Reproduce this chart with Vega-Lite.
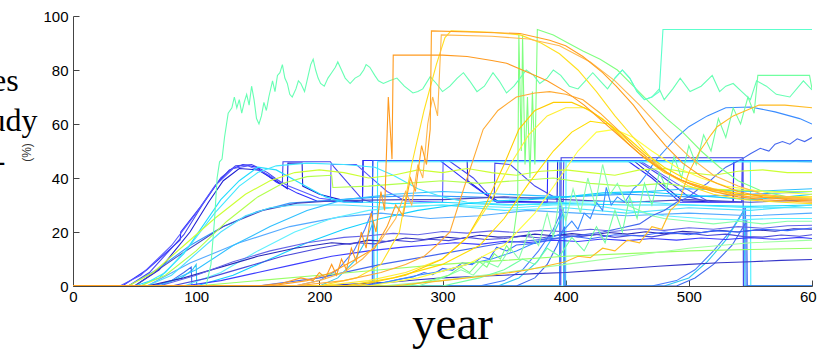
{
"$schema":"https://vega.github.io/schema/vega-lite/v6.json",
"width":739,"height":270,
"autosize":{"type":"none"},
"padding":{"left":73,"top":16,"right":5,"bottom":64},
"background":"white",
"config":{"view":{"stroke":null}},
"title":{"text":["Species","the study","areas -"],"orient":"top","anchor":"start","frame":"group","align":"left","baseline":"alphabetic","font":"Liberation Serif","fontSize":32,"fontWeight":"normal","lineHeight":40,"color":"#000","offset":0,"dx":-152,"dy":194},
"data":{"values":[
{"s":"s01","t":0,"v":0},{"s":"s01","t":50,"v":0},{"s":"s01","t":70,"v":6},{"s":"s01","t":95,"v":20},{"s":"s01","t":110,"v":31},{"s":"s01","t":122,"v":39},{"s":"s01","t":135,"v":43.5},{"s":"s01","t":150,"v":43},{"s":"s01","t":165,"v":39},{"s":"s01","t":174,"v":36},{"s":"s01","t":174.5,"v":45.5},{"s":"s01","t":186,"v":45.5},{"s":"s01","t":186.5,"v":37},{"s":"s01","t":200,"v":34},{"s":"s01","t":217,"v":32},{"s":"s01","t":235,"v":31},{"s":"s01","t":235.5,"v":46.5},{"s":"s01","t":320,"v":46.5},{"s":"s01","t":320.5,"v":39},{"s":"s01","t":335,"v":34},{"s":"s01","t":345,"v":31.5},{"s":"s01","t":393,"v":31},{"s":"s01","t":393.5,"v":46.5},{"s":"s01","t":455,"v":46.5},{"s":"s01","t":475,"v":39},{"s":"s01","t":495,"v":31.5},{"s":"s01","t":536,"v":31},{"s":"s01","t":536.5,"v":46.5},{"s":"s01","t":600,"v":46.5},
{"s":"s02","t":0,"v":0},{"s":"s02","t":40,"v":0},{"s":"s02","t":60,"v":6},{"s":"s02","t":87,"v":17},{"s":"s02","t":87.5,"v":20},{"s":"s02","t":103,"v":29},{"s":"s02","t":117,"v":38},{"s":"s02","t":127,"v":43},{"s":"s02","t":138,"v":45},{"s":"s02","t":149,"v":44},{"s":"s02","t":165,"v":38.5},{"s":"s02","t":182,"v":34.4},{"s":"s02","t":198,"v":31.5},{"s":"s02","t":235,"v":31},{"s":"s02","t":235.5,"v":46.5},{"s":"s02","t":298,"v":46.5},{"s":"s02","t":322,"v":38},{"s":"s02","t":344,"v":31},{"s":"s02","t":385,"v":31},{"s":"s02","t":385.5,"v":46.5},{"s":"s02","t":450,"v":46.5},{"s":"s02","t":470,"v":40},{"s":"s02","t":493,"v":31},{"s":"s02","t":536,"v":31},{"s":"s02","t":536.5,"v":46.5},{"s":"s02","t":600,"v":46.5},
{"s":"s03","t":0,"v":0},{"s":"s03","t":45,"v":0},{"s":"s03","t":62,"v":5},{"s":"s03","t":90,"v":19},{"s":"s03","t":105,"v":30},{"s":"s03","t":120,"v":40},{"s":"s03","t":132,"v":44.5},{"s":"s03","t":145,"v":45},{"s":"s03","t":158,"v":42},{"s":"s03","t":170,"v":38},{"s":"s03","t":170.5,"v":46},{"s":"s03","t":209,"v":46},{"s":"s03","t":212,"v":44},{"s":"s03","t":235,"v":32},{"s":"s03","t":243,"v":31},{"s":"s03","t":243.5,"v":46.5},{"s":"s03","t":305,"v":46.5},{"s":"s03","t":325,"v":40},{"s":"s03","t":342,"v":31.5},{"s":"s03","t":342.5,"v":45.5},{"s":"s03","t":355,"v":45},{"s":"s03","t":375,"v":37},{"s":"s03","t":398,"v":31},{"s":"s03","t":398.5,"v":46.5},{"s":"s03","t":458,"v":46.5},{"s":"s03","t":480,"v":40},{"s":"s03","t":500,"v":33},{"s":"s03","t":517,"v":31},{"s":"s03","t":543,"v":31},{"s":"s03","t":543.5,"v":46.5},{"s":"s03","t":600,"v":46},
{"s":"s04","t":0,"v":0},{"s":"s04","t":38,"v":0},{"s":"s04","t":55,"v":4},{"s":"s04","t":80,"v":15},{"s":"s04","t":100,"v":27},{"s":"s04","t":115,"v":37},{"s":"s04","t":130,"v":43.5},{"s":"s04","t":142,"v":44.5},{"s":"s04","t":155,"v":42},{"s":"s04","t":175,"v":37},{"s":"s04","t":200,"v":32.5},{"s":"s04","t":209,"v":32},{"s":"s04","t":209.5,"v":45},{"s":"s04","t":230,"v":45},{"s":"s04","t":240,"v":41},{"s":"s04","t":255,"v":35},{"s":"s04","t":270,"v":31.5},{"s":"s04","t":300,"v":31},{"s":"s04","t":300.5,"v":46.5},{"s":"s04","t":460,"v":46.5},{"s":"s04","t":490,"v":38},{"s":"s04","t":517,"v":31},{"s":"s04","t":543,"v":31},{"s":"s04","t":543.5,"v":46.5},{"s":"s04","t":600,"v":46.5},
{"s":"s05","t":0,"v":0},{"s":"s05","t":243,"v":0},{"s":"s05","t":243.3,"v":46.5},{"s":"s05","t":600,"v":46.5},
{"s":"s06","t":0,"v":0},{"s":"s06","t":395,"v":0},{"s":"s06","t":395.3,"v":46.5},{"s":"s06","t":600,"v":46.5},
{"s":"s07","t":0,"v":0},{"s":"s07","t":396,"v":0},{"s":"s07","t":396.3,"v":47.5},{"s":"s07","t":544,"v":47.5},{"s":"s07","t":544.3,"v":0},{"s":"s07","t":600,"v":0},
{"s":"s08","t":0,"v":0},{"s":"s08","t":247,"v":0},{"s":"s08","t":247.3,"v":46},{"s":"s08","t":600,"v":46},
{"s":"s09","t":0,"v":0},{"s":"s09","t":400,"v":0},{"s":"s09","t":400.3,"v":46},{"s":"s09","t":550,"v":46},{"s":"s09","t":550.3,"v":0},{"s":"s09","t":600,"v":0},
{"s":"s10","t":0,"v":0},{"s":"s10","t":180,"v":0},{"s":"s10","t":200,"v":2},{"s":"s10","t":215,"v":6},{"s":"s10","t":228,"v":13},{"s":"s10","t":237,"v":21},{"s":"s10","t":243,"v":28},{"s":"s10","t":243.5,"v":0},{"s":"s10","t":330,"v":0},{"s":"s10","t":350,"v":2},{"s":"s10","t":365,"v":6},{"s":"s10","t":378,"v":13},{"s":"s10","t":390,"v":21},{"s":"s10","t":398,"v":29},{"s":"s10","t":398.5,"v":0},{"s":"s10","t":470,"v":0},{"s":"s10","t":490,"v":2},{"s":"s10","t":505,"v":6},{"s":"s10","t":520,"v":13},{"s":"s10","t":535,"v":21},{"s":"s10","t":546,"v":29},{"s":"s10","t":546.5,"v":0},{"s":"s10","t":600,"v":0},
{"s":"s11","t":0,"v":0},{"s":"s11","t":60,"v":0},{"s":"s11","t":75,"v":1},{"s":"s11","t":88,"v":3},{"s":"s11","t":97,"v":6},{"s":"s11","t":100,"v":8},{"s":"s11","t":100.5,"v":0},{"s":"s11","t":200,"v":0},{"s":"s11","t":215,"v":3},{"s":"s11","t":228,"v":9},{"s":"s11","t":238,"v":17},{"s":"s11","t":244,"v":24},{"s":"s11","t":244.5,"v":0},{"s":"s11","t":345,"v":0},{"s":"s11","t":362,"v":3},{"s":"s11","t":377,"v":9},{"s":"s11","t":388,"v":17},{"s":"s11","t":398,"v":27},{"s":"s11","t":398.5,"v":0},{"s":"s11","t":480,"v":0},{"s":"s11","t":500,"v":3},{"s":"s11","t":515,"v":9},{"s":"s11","t":530,"v":17},{"s":"s11","t":545,"v":28},{"s":"s11","t":545.5,"v":0},{"s":"s11","t":600,"v":0},
{"s":"s12","t":0,"v":0},{"s":"s12","t":65,"v":0},{"s":"s12","t":80,"v":2},{"s":"s12","t":90,"v":5},{"s":"s12","t":96,"v":7},{"s":"s12","t":96.5,"v":0},{"s":"s12","t":360,"v":0},{"s":"s12","t":375,"v":3},{"s":"s12","t":385,"v":8},{"s":"s12","t":393,"v":15},{"s":"s12","t":399,"v":22},{"s":"s12","t":399.5,"v":0},{"s":"s12","t":490,"v":0},{"s":"s12","t":505,"v":3},{"s":"s12","t":520,"v":8},{"s":"s12","t":535,"v":15},{"s":"s12","t":547,"v":24},{"s":"s12","t":547.5,"v":0},{"s":"s12","t":600,"v":0},
{"s":"s13","t":0,"v":0},{"s":"s13","t":45,"v":0},{"s":"s13","t":68,"v":6},{"s":"s13","t":95,"v":15},{"s":"s13","t":122,"v":22},{"s":"s13","t":149,"v":27.5},{"s":"s13","t":176,"v":30.7},{"s":"s13","t":217,"v":32},{"s":"s13","t":250,"v":33},{"s":"s13","t":280,"v":33.5},{"s":"s13","t":320,"v":33},{"s":"s13","t":360,"v":32.5},{"s":"s13","t":400,"v":33},{"s":"s13","t":450,"v":34},{"s":"s13","t":500,"v":33},{"s":"s13","t":550,"v":34},{"s":"s13","t":600,"v":35},
{"s":"s14","t":0,"v":0},{"s":"s14","t":60,"v":0},{"s":"s14","t":95,"v":8.5},{"s":"s14","t":135,"v":16},{"s":"s14","t":176,"v":22},{"s":"s14","t":217,"v":25.6},{"s":"s14","t":250,"v":27},{"s":"s14","t":290,"v":25},{"s":"s14","t":330,"v":26},{"s":"s14","t":370,"v":28},{"s":"s14","t":410,"v":27},{"s":"s14","t":450,"v":26},{"s":"s14","t":500,"v":27},{"s":"s14","t":550,"v":26},{"s":"s14","t":600,"v":27},
{"s":"s15","t":0,"v":0},{"s":"s15","t":50,"v":0},{"s":"s15","t":84,"v":10.7},{"s":"s15","t":122,"v":22},{"s":"s15","t":154,"v":28},{"s":"s15","t":182,"v":30.7},{"s":"s15","t":210,"v":31.5},{"s":"s15","t":240,"v":31.8},{"s":"s15","t":270,"v":32},{"s":"s15","t":300,"v":32},{"s":"s15","t":350,"v":33},{"s":"s15","t":400,"v":32},{"s":"s15","t":450,"v":31},{"s":"s15","t":500,"v":32},{"s":"s15","t":550,"v":31},{"s":"s15","t":600,"v":32},
{"s":"s16","t":0,"v":0},{"s":"s16","t":50,"v":0},{"s":"s16","t":70,"v":3},{"s":"s16","t":90,"v":12},{"s":"s16","t":105,"v":22},{"s":"s16","t":120,"v":32},{"s":"s16","t":135,"v":39},{"s":"s16","t":150,"v":44},{"s":"s16","t":165,"v":43},{"s":"s16","t":185,"v":38},{"s":"s16","t":205,"v":33},{"s":"s16","t":220,"v":31},{"s":"s16","t":245,"v":31},{"s":"s16","t":260,"v":30.5},{"s":"s16","t":300,"v":31},{"s":"s16","t":350,"v":30},{"s":"s16","t":400,"v":30.5},{"s":"s16","t":450,"v":30},{"s":"s16","t":500,"v":30},{"s":"s16","t":550,"v":29.5},{"s":"s16","t":600,"v":30},
{"s":"s17","t":0,"v":0},{"s":"s17","t":60,"v":0},{"s":"s17","t":80,"v":4},{"s":"s17","t":100,"v":12},{"s":"s17","t":120,"v":20},{"s":"s17","t":140,"v":26},{"s":"s17","t":160,"v":29},{"s":"s17","t":180,"v":30},{"s":"s17","t":220,"v":30},{"s":"s17","t":260,"v":29},{"s":"s17","t":300,"v":30},{"s":"s17","t":350,"v":28},{"s":"s17","t":400,"v":29},{"s":"s17","t":450,"v":27},{"s":"s17","t":500,"v":29},{"s":"s17","t":550,"v":28},{"s":"s17","t":600,"v":30},
{"s":"s18","t":0,"v":0},{"s":"s18","t":70,"v":0},{"s":"s18","t":100,"v":6},{"s":"s18","t":130,"v":15},{"s":"s18","t":160,"v":22},{"s":"s18","t":190,"v":28},{"s":"s18","t":220,"v":32},{"s":"s18","t":260,"v":34},{"s":"s18","t":300,"v":35},{"s":"s18","t":350,"v":34},{"s":"s18","t":400,"v":33},{"s":"s18","t":450,"v":34.5},{"s":"s18","t":500,"v":36},{"s":"s18","t":550,"v":35},{"s":"s18","t":600,"v":36},
{"s":"s19","t":0,"v":0},{"s":"s19","t":90,"v":0},{"s":"s19","t":120,"v":5},{"s":"s19","t":150,"v":13},{"s":"s19","t":180,"v":20},{"s":"s19","t":210,"v":25},{"s":"s19","t":240,"v":28},{"s":"s19","t":270,"v":29.5},{"s":"s19","t":300,"v":30},{"s":"s19","t":330,"v":29.5},{"s":"s19","t":360,"v":29},{"s":"s19","t":390,"v":30},{"s":"s19","t":420,"v":30},{"s":"s19","t":450,"v":28},{"s":"s19","t":480,"v":26},{"s":"s19","t":510,"v":25},{"s":"s19","t":540,"v":24.5},{"s":"s19","t":570,"v":25},{"s":"s19","t":600,"v":25},
{"s":"s20","t":0,"v":0},{"s":"s20","t":100,"v":0},{"s":"s20","t":130,"v":4},{"s":"s20","t":160,"v":10},{"s":"s20","t":190,"v":16},{"s":"s20","t":220,"v":21},{"s":"s20","t":250,"v":25},{"s":"s20","t":280,"v":28},{"s":"s20","t":310,"v":30},{"s":"s20","t":340,"v":31.5},{"s":"s20","t":370,"v":32},{"s":"s20","t":400,"v":33},{"s":"s20","t":430,"v":34.5},{"s":"s20","t":460,"v":35},{"s":"s20","t":490,"v":34},{"s":"s20","t":520,"v":33},{"s":"s20","t":550,"v":32},{"s":"s20","t":580,"v":33},{"s":"s20","t":600,"v":34},
{"s":"s21","t":0,"v":0},{"s":"s21","t":55,"v":0},{"s":"s21","t":75,"v":5},{"s":"s21","t":95,"v":15},{"s":"s21","t":115,"v":27},{"s":"s21","t":135,"v":37},{"s":"s21","t":150,"v":42},{"s":"s21","t":165,"v":44.5},{"s":"s21","t":190,"v":45.5},{"s":"s21","t":220,"v":45},{"s":"s21","t":245,"v":44},{"s":"s21","t":260,"v":41},{"s":"s21","t":280,"v":36},{"s":"s21","t":300,"v":33},{"s":"s21","t":320,"v":31},{"s":"s21","t":360,"v":30},{"s":"s21","t":400,"v":31},{"s":"s21","t":450,"v":31.5},{"s":"s21","t":500,"v":30},{"s":"s21","t":550,"v":29},{"s":"s21","t":600,"v":29},
{"s":"s22","t":0,"v":0},{"s":"s22","t":60,"v":0},{"s":"s22","t":90,"v":3},{"s":"s22","t":120,"v":7},{"s":"s22","t":150,"v":11},{"s":"s22","t":180,"v":14},{"s":"s22","t":210,"v":16},{"s":"s22","t":225,"v":15.5},{"s":"s22","t":240,"v":17},{"s":"s22","t":255,"v":16.5},{"s":"s22","t":270,"v":17.8},{"s":"s22","t":285,"v":17.2},{"s":"s22","t":300,"v":18.2},{"s":"s22","t":315,"v":17.6},{"s":"s22","t":330,"v":18.8},{"s":"s22","t":345,"v":18.1},{"s":"s22","t":360,"v":18.3},{"s":"s22","t":375,"v":19.2},{"s":"s22","t":390,"v":18.6},{"s":"s22","t":405,"v":19.4},{"s":"s22","t":420,"v":18.7},{"s":"s22","t":435,"v":19.8},{"s":"s22","t":450,"v":19.2},{"s":"s22","t":465,"v":20.1},{"s":"s22","t":480,"v":19.3},{"s":"s22","t":495,"v":20.3},{"s":"s22","t":510,"v":19.8},{"s":"s22","t":525,"v":20.6},{"s":"s22","t":540,"v":20},{"s":"s22","t":555,"v":20.8},{"s":"s22","t":570,"v":20.3},{"s":"s22","t":585,"v":21.2},{"s":"s22","t":600,"v":21},
{"s":"s23","t":0,"v":0},{"s":"s23","t":80,"v":0},{"s":"s23","t":110,"v":3},{"s":"s23","t":140,"v":7},{"s":"s23","t":170,"v":11},{"s":"s23","t":200,"v":14},{"s":"s23","t":215,"v":15.2},{"s":"s23","t":230,"v":16},{"s":"s23","t":245,"v":15.6},{"s":"s23","t":260,"v":17},{"s":"s23","t":275,"v":16.4},{"s":"s23","t":290,"v":17.3},{"s":"s23","t":305,"v":16.8},{"s":"s23","t":320,"v":18},{"s":"s23","t":335,"v":17.2},{"s":"s23","t":350,"v":17.6},{"s":"s23","t":365,"v":18.4},{"s":"s23","t":380,"v":17.8},{"s":"s23","t":395,"v":18.9},{"s":"s23","t":410,"v":18.2},{"s":"s23","t":425,"v":19.1},{"s":"s23","t":440,"v":18},{"s":"s23","t":455,"v":18.8},{"s":"s23","t":470,"v":18.2},{"s":"s23","t":485,"v":19.4},{"s":"s23","t":500,"v":19.6},{"s":"s23","t":515,"v":18.7},{"s":"s23","t":530,"v":19.2},{"s":"s23","t":545,"v":18.3},{"s":"s23","t":560,"v":18.1},{"s":"s23","t":575,"v":18.9},{"s":"s23","t":590,"v":18.4},{"s":"s23","t":600,"v":19},
{"s":"s24","t":0,"v":0},{"s":"s24","t":70,"v":0},{"s":"s24","t":100,"v":4},{"s":"s24","t":130,"v":9},{"s":"s24","t":160,"v":13},{"s":"s24","t":190,"v":16},{"s":"s24","t":220,"v":18},{"s":"s24","t":240,"v":18.6},{"s":"s24","t":260,"v":19.5},{"s":"s24","t":280,"v":19},{"s":"s24","t":300,"v":20.2},{"s":"s24","t":320,"v":19.6},{"s":"s24","t":340,"v":20.4},{"s":"s24","t":360,"v":19.8},{"s":"s24","t":380,"v":20.6},{"s":"s24","t":400,"v":20.1},{"s":"s24","t":420,"v":21},{"s":"s24","t":440,"v":20.3},{"s":"s24","t":460,"v":21.2},{"s":"s24","t":480,"v":20.6},{"s":"s24","t":500,"v":21.6},{"s":"s24","t":520,"v":21},{"s":"s24","t":540,"v":22},{"s":"s24","t":560,"v":21.4},{"s":"s24","t":580,"v":22.3},{"s":"s24","t":600,"v":22.5},
{"s":"s25","t":0,"v":0},{"s":"s25","t":90,"v":0},{"s":"s25","t":120,"v":2},{"s":"s25","t":150,"v":5},{"s":"s25","t":180,"v":8},{"s":"s25","t":210,"v":11},{"s":"s25","t":240,"v":13},{"s":"s25","t":270,"v":14.5},{"s":"s25","t":290,"v":15.2},{"s":"s25","t":310,"v":16},{"s":"s25","t":330,"v":15.4},{"s":"s25","t":350,"v":16.6},{"s":"s25","t":370,"v":16.1},{"s":"s25","t":390,"v":17},{"s":"s25","t":410,"v":16.5},{"s":"s25","t":430,"v":17.4},{"s":"s25","t":450,"v":16.8},{"s":"s25","t":470,"v":17.6},{"s":"s25","t":490,"v":17},{"s":"s25","t":510,"v":17.8},{"s":"s25","t":530,"v":17.2},{"s":"s25","t":550,"v":17.9},{"s":"s25","t":570,"v":17.3},{"s":"s25","t":590,"v":18},{"s":"s25","t":600,"v":17.6},
{"s":"s26","t":0,"v":0},{"s":"s26","t":200,"v":0},{"s":"s26","t":230,"v":0.8},{"s":"s26","t":260,"v":1.5},{"s":"s26","t":280,"v":2.3},{"s":"s26","t":300,"v":3},{"s":"s26","t":325,"v":3.5},{"s":"s26","t":350,"v":4},{"s":"s26","t":375,"v":4.6},{"s":"s26","t":400,"v":5},{"s":"s26","t":425,"v":5.8},{"s":"s26","t":450,"v":6.5},{"s":"s26","t":475,"v":7.3},{"s":"s26","t":500,"v":8},{"s":"s26","t":525,"v":8.6},{"s":"s26","t":550,"v":9},{"s":"s26","t":575,"v":9.5},{"s":"s26","t":600,"v":9.8},
{"s":"s27","t":0,"v":0},{"s":"s27","t":230,"v":0},{"s":"s27","t":250,"v":1},{"s":"s27","t":265,"v":2.5},{"s":"s27","t":276,"v":3.3},{"s":"s27","t":285,"v":5},{"s":"s27","t":292,"v":4.2},{"s":"s27","t":300,"v":6.5},{"s":"s27","t":308,"v":5.8},{"s":"s27","t":316,"v":8.6},{"s":"s27","t":324,"v":7.9},{"s":"s27","t":332,"v":10.8},{"s":"s27","t":338,"v":10},{"s":"s27","t":344,"v":14.4},{"s":"s27","t":352,"v":13},{"s":"s27","t":360,"v":15.2},{"s":"s27","t":375,"v":15.8},{"s":"s27","t":390,"v":17.4},{"s":"s27","t":405,"v":18.5},{"s":"s27","t":420,"v":17.5},{"s":"s27","t":440,"v":19},{"s":"s27","t":460,"v":18.5},{"s":"s27","t":480,"v":20},{"s":"s27","t":500,"v":19},{"s":"s27","t":520,"v":20.5},{"s":"s27","t":540,"v":20},{"s":"s27","t":560,"v":21},{"s":"s27","t":580,"v":20.5},{"s":"s27","t":600,"v":21.5},
{"s":"s28","t":0,"v":0},{"s":"s28","t":240,"v":0},{"s":"s28","t":260,"v":2},{"s":"s28","t":280,"v":4},{"s":"s28","t":300,"v":5.5},{"s":"s28","t":320,"v":8},{"s":"s28","t":340,"v":10},{"s":"s28","t":360,"v":13},{"s":"s28","t":380,"v":17},{"s":"s28","t":395,"v":19},{"s":"s28","t":405,"v":24},{"s":"s28","t":410,"v":21},{"s":"s28","t":415,"v":27},{"s":"s28","t":420,"v":25},{"s":"s28","t":425,"v":31},{"s":"s28","t":430,"v":28},{"s":"s28","t":433,"v":36.5},{"s":"s28","t":437,"v":30},{"s":"s28","t":442,"v":33},{"s":"s28","t":448,"v":31},{"s":"s28","t":455,"v":36},{"s":"s28","t":460,"v":38},{"s":"s28","t":465,"v":41},{"s":"s28","t":468,"v":43},{"s":"s28","t":472,"v":46},{"s":"s28","t":480,"v":50},{"s":"s28","t":490,"v":55},{"s":"s28","t":500,"v":59},{"s":"s28","t":515,"v":63},{"s":"s28","t":530,"v":66},{"s":"s28","t":550,"v":66.3},{"s":"s28","t":570,"v":64.5},{"s":"s28","t":590,"v":62},{"s":"s28","t":600,"v":60},
{"s":"s29","t":0,"v":0},{"s":"s29","t":150,"v":0},{"s":"s29","t":200,"v":3},{"s":"s29","t":250,"v":8},{"s":"s29","t":300,"v":12},{"s":"s29","t":350,"v":16},{"s":"s29","t":400,"v":18},{"s":"s29","t":430,"v":20},{"s":"s29","t":445,"v":21.5},{"s":"s29","t":460,"v":23},{"s":"s29","t":470,"v":26},{"s":"s29","t":480,"v":28},{"s":"s29","t":490,"v":31},{"s":"s29","t":500,"v":33},{"s":"s29","t":508,"v":36},{"s":"s29","t":515,"v":38},{"s":"s29","t":522,"v":41},{"s":"s29","t":530,"v":44},{"s":"s29","t":543,"v":47},{"s":"s29","t":550,"v":49},{"s":"s29","t":558,"v":51},{"s":"s29","t":565,"v":50},{"s":"s29","t":570,"v":52.5},{"s":"s29","t":576,"v":53.5},{"s":"s29","t":582,"v":52.5},{"s":"s29","t":588,"v":54.5},{"s":"s29","t":594,"v":53.5},{"s":"s29","t":600,"v":55},
{"s":"s30","t":0,"v":0},{"s":"s30","t":45,"v":0},{"s":"s30","t":65,"v":5},{"s":"s30","t":90,"v":15},{"s":"s30","t":115,"v":25},{"s":"s30","t":140,"v":34},{"s":"s30","t":160,"v":39},{"s":"s30","t":180,"v":42},{"s":"s30","t":200,"v":43},{"s":"s30","t":220,"v":42},{"s":"s30","t":240,"v":40},{"s":"s30","t":260,"v":41},{"s":"s30","t":280,"v":43},{"s":"s30","t":300,"v":42},{"s":"s30","t":320,"v":43.5},{"s":"s30","t":340,"v":42},{"s":"s30","t":360,"v":41},{"s":"s30","t":380,"v":42.5},{"s":"s30","t":400,"v":43},{"s":"s30","t":420,"v":42},{"s":"s30","t":440,"v":41},{"s":"s30","t":460,"v":43},{"s":"s30","t":480,"v":43.5},{"s":"s30","t":500,"v":42},{"s":"s30","t":520,"v":41},{"s":"s30","t":540,"v":42.5},{"s":"s30","t":560,"v":43},{"s":"s30","t":580,"v":42},{"s":"s30","t":600,"v":42},
{"s":"s31","t":0,"v":0},{"s":"s31","t":55,"v":0},{"s":"s31","t":75,"v":4},{"s":"s31","t":100,"v":13},{"s":"s31","t":125,"v":24},{"s":"s31","t":150,"v":33},{"s":"s31","t":170,"v":38},{"s":"s31","t":190,"v":40.5},{"s":"s31","t":210,"v":41},{"s":"s31","t":211,"v":36.5},{"s":"s31","t":240,"v":37},{"s":"s31","t":270,"v":38},{"s":"s31","t":300,"v":39},{"s":"s31","t":330,"v":38},{"s":"s31","t":360,"v":39},{"s":"s31","t":390,"v":40},{"s":"s31","t":420,"v":38},{"s":"s31","t":450,"v":37},{"s":"s31","t":480,"v":38},{"s":"s31","t":510,"v":36},{"s":"s31","t":540,"v":35.5},{"s":"s31","t":570,"v":35},{"s":"s31","t":600,"v":35},
{"s":"s32","t":0,"v":0},{"s":"s32","t":100,"v":0},{"s":"s32","t":150,"v":2},{"s":"s32","t":200,"v":4},{"s":"s32","t":250,"v":6},{"s":"s32","t":300,"v":8},{"s":"s32","t":350,"v":9.5},{"s":"s32","t":400,"v":11},{"s":"s32","t":450,"v":12},{"s":"s32","t":500,"v":13},{"s":"s32","t":550,"v":13.5},{"s":"s32","t":600,"v":14},
{"s":"s33","t":0,"v":0},{"s":"s33","t":250,"v":0},{"s":"s33","t":300,"v":2},{"s":"s33","t":350,"v":5},{"s":"s33","t":400,"v":8},{"s":"s33","t":450,"v":11},{"s":"s33","t":500,"v":14},{"s":"s33","t":550,"v":16},{"s":"s33","t":600,"v":17},
{"s":"s34","t":0,"v":0},{"s":"s34","t":280,"v":0},{"s":"s34","t":300,"v":3},{"s":"s34","t":315,"v":6},{"s":"s34","t":325,"v":4},{"s":"s34","t":335,"v":9},{"s":"s34","t":345,"v":7},{"s":"s34","t":355,"v":14},{"s":"s34","t":362,"v":10},{"s":"s34","t":370,"v":20},{"s":"s34","t":378,"v":15},{"s":"s34","t":385,"v":27},{"s":"s34","t":390,"v":18},{"s":"s34","t":395,"v":33},{"s":"s34","t":400,"v":24},{"s":"s34","t":406,"v":36},{"s":"s34","t":412,"v":27},{"s":"s34","t":418,"v":40},{"s":"s34","t":424,"v":30},{"s":"s34","t":430,"v":45},{"s":"s34","t":436,"v":34},{"s":"s34","t":442,"v":38},{"s":"s34","t":450,"v":30},{"s":"s34","t":460,"v":28},{"s":"s34","t":470,"v":26},{"s":"s34","t":480,"v":25},{"s":"s34","t":500,"v":24},{"s":"s34","t":520,"v":23},{"s":"s34","t":540,"v":24},{"s":"s34","t":560,"v":23},{"s":"s34","t":580,"v":24},{"s":"s34","t":600,"v":24},
{"s":"s35","t":0,"v":0},{"s":"s35","t":300,"v":0},{"s":"s35","t":330,"v":3},{"s":"s35","t":350,"v":6},{"s":"s35","t":365,"v":10},{"s":"s35","t":375,"v":8},{"s":"s35","t":385,"v":14},{"s":"s35","t":395,"v":11},{"s":"s35","t":405,"v":18},{"s":"s35","t":415,"v":13},{"s":"s35","t":425,"v":22},{"s":"s35","t":432,"v":16},{"s":"s35","t":440,"v":28},{"s":"s35","t":446,"v":20},{"s":"s35","t":452,"v":33},{"s":"s35","t":458,"v":25},{"s":"s35","t":464,"v":38},{"s":"s35","t":470,"v":30},{"s":"s35","t":476,"v":42},{"s":"s35","t":482,"v":36},{"s":"s35","t":488,"v":48},{"s":"s35","t":494,"v":40},{"s":"s35","t":500,"v":52},{"s":"s35","t":506,"v":45},{"s":"s35","t":512,"v":56},{"s":"s35","t":518,"v":50},{"s":"s35","t":524,"v":62},{"s":"s35","t":530,"v":55},{"s":"s35","t":536,"v":66},{"s":"s35","t":542,"v":60},{"s":"s35","t":548,"v":70},{"s":"s35","t":553,"v":64},{"s":"s35","t":556,"v":78},{"s":"s35","t":598,"v":78},{"s":"s35","t":600,"v":73},
{"s":"s36","t":0,"v":0},{"s":"s36","t":270,"v":0},{"s":"s36","t":290,"v":2},{"s":"s36","t":305,"v":4},{"s":"s36","t":315,"v":7},{"s":"s36","t":322,"v":5},{"s":"s36","t":330,"v":9},{"s":"s36","t":336,"v":7},{"s":"s36","t":342,"v":12},{"s":"s36","t":347,"v":10},{"s":"s36","t":352,"v":15},{"s":"s36","t":355,"v":13},{"s":"s36","t":358,"v":20},{"s":"s36","t":361,"v":30},{"s":"s36","t":362,"v":93},{"s":"s36","t":364,"v":50},{"s":"s36","t":365,"v":93},{"s":"s36","t":367,"v":45},{"s":"s36","t":369,"v":70},{"s":"s36","t":371,"v":40},{"s":"s36","t":373,"v":72},{"s":"s36","t":375,"v":45},{"s":"s36","t":377,"v":95},{"s":"s36","t":390,"v":93},{"s":"s36","t":400,"v":90.5},{"s":"s36","t":414,"v":87},{"s":"s36","t":428,"v":84},{"s":"s36","t":442,"v":80},{"s":"s36","t":455,"v":74},{"s":"s36","t":468,"v":68},{"s":"s36","t":482,"v":62},{"s":"s36","t":495,"v":57},{"s":"s36","t":510,"v":50},{"s":"s36","t":525,"v":44},{"s":"s36","t":540,"v":39},{"s":"s36","t":560,"v":35},{"s":"s36","t":580,"v":33},{"s":"s36","t":600,"v":32},
{"s":"s37","t":0,"v":0},{"s":"s37","t":108,"v":0},{"s":"s37","t":112,"v":8},{"s":"s37","t":115,"v":25},{"s":"s37","t":117,"v":40},{"s":"s37","t":119,"v":46},{"s":"s37","t":121,"v":47},{"s":"s37","t":123,"v":55},{"s":"s37","t":126,"v":64},{"s":"s37","t":129,"v":66},{"s":"s37","t":131,"v":70},{"s":"s37","t":133,"v":66},{"s":"s37","t":135,"v":69},{"s":"s37","t":137,"v":64},{"s":"s37","t":139,"v":68},{"s":"s37","t":141,"v":71},{"s":"s37","t":143,"v":67},{"s":"s37","t":145,"v":74},{"s":"s37","t":147,"v":69},{"s":"s37","t":149,"v":62},{"s":"s37","t":151,"v":60},{"s":"s37","t":153,"v":63},{"s":"s37","t":155,"v":68},{"s":"s37","t":157,"v":65},{"s":"s37","t":159,"v":70},{"s":"s37","t":162,"v":76},{"s":"s37","t":164,"v":72},{"s":"s37","t":166,"v":78},{"s":"s37","t":168,"v":79},{"s":"s37","t":170,"v":82},{"s":"s37","t":172,"v":77},{"s":"s37","t":174,"v":75},{"s":"s37","t":176,"v":71},{"s":"s37","t":178,"v":70},{"s":"s37","t":181,"v":73},{"s":"s37","t":183,"v":76},{"s":"s37","t":185,"v":75},{"s":"s37","t":188,"v":72},{"s":"s37","t":191,"v":78},{"s":"s37","t":193,"v":82},{"s":"s37","t":195,"v":84},{"s":"s37","t":197,"v":80},{"s":"s37","t":199,"v":77},{"s":"s37","t":201,"v":75},{"s":"s37","t":204,"v":74},{"s":"s37","t":207,"v":77},{"s":"s37","t":210,"v":79},{"s":"s37","t":213,"v":81},{"s":"s37","t":215,"v":83},{"s":"s37","t":218,"v":80},{"s":"s37","t":221,"v":77},{"s":"s37","t":225,"v":75},{"s":"s37","t":229,"v":77},{"s":"s37","t":233,"v":78},{"s":"s37","t":236,"v":80},{"s":"s37","t":238,"v":82},{"s":"s37","t":241,"v":81},{"s":"s37","t":245,"v":78},{"s":"s37","t":248,"v":76},{"s":"s37","t":252,"v":75},{"s":"s37","t":257,"v":76},{"s":"s37","t":263,"v":77},{"s":"s37","t":269,"v":74},{"s":"s37","t":276,"v":71.5},{"s":"s37","t":280,"v":72},{"s":"s37","t":284,"v":73},{"s":"s37","t":290,"v":77.5},{"s":"s37","t":295,"v":75},{"s":"s37","t":300,"v":72},{"s":"s37","t":306,"v":74},{"s":"s37","t":312,"v":77},{"s":"s37","t":317,"v":79},{"s":"s37","t":322,"v":76},{"s":"s37","t":328,"v":72},{"s":"s37","t":334,"v":74},{"s":"s37","t":341,"v":79},{"s":"s37","t":346,"v":76},{"s":"s37","t":352,"v":71.5},{"s":"s37","t":358,"v":74},{"s":"s37","t":363,"v":77},{"s":"s37","t":368,"v":80},{"s":"s37","t":374,"v":78},{"s":"s37","t":379,"v":75},{"s":"s37","t":385,"v":77},{"s":"s37","t":390,"v":80},{"s":"s37","t":396,"v":78},{"s":"s37","t":403,"v":74},{"s":"s37","t":410,"v":73},{"s":"s37","t":416,"v":76},{"s":"s37","t":422,"v":79},{"s":"s37","t":428,"v":76},{"s":"s37","t":434,"v":73},{"s":"s37","t":440,"v":77},{"s":"s37","t":446,"v":80},{"s":"s37","t":452,"v":77},{"s":"s37","t":458,"v":72},{"s":"s37","t":464,"v":69},{"s":"s37","t":470,"v":70},{"s":"s37","t":476,"v":73},{"s":"s37","t":480,"v":69},{"s":"s37","t":487,"v":73},{"s":"s37","t":493,"v":77},{"s":"s37","t":501,"v":72},{"s":"s37","t":510,"v":74},{"s":"s37","t":519,"v":78},{"s":"s37","t":525,"v":72},{"s":"s37","t":530,"v":74},{"s":"s37","t":536,"v":75},{"s":"s37","t":543,"v":72},{"s":"s37","t":550,"v":69},{"s":"s37","t":555,"v":76},{"s":"s37","t":563,"v":74},{"s":"s37","t":571,"v":71},{"s":"s37","t":582,"v":70},{"s":"s37","t":593,"v":76},{"s":"s37","t":600,"v":72.6},
{"s":"s38","t":440,"v":77},{"s":"s38","t":446,"v":80},{"s":"s38","t":452,"v":77},{"s":"s38","t":458,"v":72},{"s":"s38","t":464,"v":69},{"s":"s38","t":470,"v":70},{"s":"s38","t":476,"v":72},{"s":"s38","t":479,"v":95},{"s":"s38","t":600,"v":95},
{"s":"s39","t":0,"v":0},{"s":"s39","t":240,"v":0},{"s":"s39","t":280,"v":3},{"s":"s39","t":320,"v":8},{"s":"s39","t":350,"v":15},{"s":"s39","t":375,"v":27},{"s":"s39","t":395,"v":40},{"s":"s39","t":410,"v":50},{"s":"s39","t":425,"v":57},{"s":"s39","t":440,"v":58},{"s":"s39","t":455,"v":55},{"s":"s39","t":470,"v":50},{"s":"s39","t":490,"v":44},{"s":"s39","t":510,"v":40},{"s":"s39","t":530,"v":37},{"s":"s39","t":560,"v":35},{"s":"s39","t":600,"v":34},
{"s":"s40","t":0,"v":0},{"s":"s40","t":200,"v":0},{"s":"s40","t":240,"v":2},{"s":"s40","t":270,"v":5},{"s":"s40","t":300,"v":10},{"s":"s40","t":320,"v":18},{"s":"s40","t":340,"v":32},{"s":"s40","t":355,"v":45},{"s":"s40","t":370,"v":56},{"s":"s40","t":385,"v":63},{"s":"s40","t":400,"v":66},{"s":"s40","t":415,"v":66},{"s":"s40","t":430,"v":62},{"s":"s40","t":445,"v":56},{"s":"s40","t":460,"v":50},{"s":"s40","t":475,"v":44},{"s":"s40","t":490,"v":40},{"s":"s40","t":505,"v":37},{"s":"s40","t":520,"v":35},{"s":"s40","t":540,"v":33.5},{"s":"s40","t":570,"v":32.5},{"s":"s40","t":600,"v":32},
{"s":"s41","t":0,"v":0},{"s":"s41","t":220,"v":0},{"s":"s41","t":260,"v":3},{"s":"s41","t":300,"v":8},{"s":"s41","t":330,"v":15},{"s":"s41","t":350,"v":25},{"s":"s41","t":370,"v":38},{"s":"s41","t":390,"v":50},{"s":"s41","t":405,"v":57},{"s":"s41","t":420,"v":61},{"s":"s41","t":435,"v":60},{"s":"s41","t":450,"v":55},{"s":"s41","t":465,"v":49},{"s":"s41","t":480,"v":44},{"s":"s41","t":500,"v":39},{"s":"s41","t":520,"v":36},{"s":"s41","t":545,"v":34},{"s":"s41","t":575,"v":33},{"s":"s41","t":600,"v":33},
{"s":"s42","t":0,"v":0},{"s":"s42","t":230,"v":0},{"s":"s42","t":270,"v":4},{"s":"s42","t":300,"v":10},{"s":"s42","t":320,"v":18},{"s":"s42","t":335,"v":30},{"s":"s42","t":350,"v":45},{"s":"s42","t":362,"v":58},{"s":"s42","t":375,"v":65},{"s":"s42","t":390,"v":68},{"s":"s42","t":405,"v":68},{"s":"s42","t":420,"v":65},{"s":"s42","t":435,"v":60},{"s":"s42","t":450,"v":53},{"s":"s42","t":465,"v":47},{"s":"s42","t":480,"v":42},{"s":"s42","t":500,"v":38},{"s":"s42","t":520,"v":35.5},{"s":"s42","t":545,"v":34},{"s":"s42","t":575,"v":33},{"s":"s42","t":600,"v":32.5},
{"s":"s43","t":0,"v":0},{"s":"s43","t":200,"v":0},{"s":"s43","t":230,"v":3},{"s":"s43","t":250,"v":8},{"s":"s43","t":265,"v":20},{"s":"s43","t":275,"v":45},{"s":"s43","t":285,"v":65},{"s":"s43","t":295,"v":82},{"s":"s43","t":302,"v":92},{"s":"s43","t":307,"v":94.5},{"s":"s43","t":340,"v":94},{"s":"s43","t":363,"v":93},{"s":"s43","t":380,"v":90},{"s":"s43","t":395,"v":86},{"s":"s43","t":410,"v":80},{"s":"s43","t":425,"v":72},{"s":"s43","t":440,"v":63},{"s":"s43","t":455,"v":55},{"s":"s43","t":470,"v":47},{"s":"s43","t":485,"v":41},{"s":"s43","t":500,"v":37},{"s":"s43","t":520,"v":34},{"s":"s43","t":545,"v":32},{"s":"s43","t":575,"v":31},{"s":"s43","t":600,"v":30.5},
{"s":"s44","t":0,"v":0},{"s":"s44","t":260,"v":0},{"s":"s44","t":300,"v":2},{"s":"s44","t":340,"v":4},{"s":"s44","t":370,"v":6},{"s":"s44","t":400,"v":9},{"s":"s44","t":410,"v":11},{"s":"s44","t":420,"v":10.5},{"s":"s44","t":430,"v":14},{"s":"s44","t":440,"v":13},{"s":"s44","t":450,"v":17},{"s":"s44","t":460,"v":16},{"s":"s44","t":470,"v":22},{"s":"s44","t":478,"v":21},{"s":"s44","t":485,"v":28},{"s":"s44","t":492,"v":31},{"s":"s44","t":500,"v":42},{"s":"s44","t":509,"v":50},{"s":"s44","t":518,"v":56},{"s":"s44","t":523,"v":59},{"s":"s44","t":536,"v":63},{"s":"s44","t":557,"v":67},{"s":"s44","t":578,"v":67},{"s":"s44","t":600,"v":66},
{"s":"s45","t":0,"v":0},{"s":"s45","t":180,"v":0},{"s":"s45","t":220,"v":2},{"s":"s45","t":250,"v":5},{"s":"s45","t":270,"v":8},{"s":"s45","t":285,"v":11},{"s":"s45","t":295,"v":15},{"s":"s45","t":306,"v":20},{"s":"s45","t":320,"v":40},{"s":"s45","t":333,"v":58},{"s":"s45","t":345,"v":65},{"s":"s45","t":360,"v":70},{"s":"s45","t":375,"v":71.5},{"s":"s45","t":387,"v":72},{"s":"s45","t":400,"v":71},{"s":"s45","t":414,"v":69},{"s":"s45","t":428,"v":64},{"s":"s45","t":442,"v":58},{"s":"s45","t":455,"v":52},{"s":"s45","t":468,"v":47},{"s":"s45","t":482,"v":42},{"s":"s45","t":495,"v":39},{"s":"s45","t":509,"v":37},{"s":"s45","t":523,"v":35.5},{"s":"s45","t":536,"v":34},{"s":"s45","t":549,"v":33},{"s":"s45","t":575,"v":32.5},{"s":"s45","t":600,"v":32},
{"s":"s46","t":0,"v":0},{"s":"s46","t":180,"v":0},{"s":"s46","t":200,"v":2},{"s":"s46","t":220,"v":5},{"s":"s46","t":235,"v":10},{"s":"s46","t":250,"v":17},{"s":"s46","t":262,"v":25},{"s":"s46","t":270,"v":35},{"s":"s46","t":275,"v":30},{"s":"s46","t":280,"v":45},{"s":"s46","t":284,"v":40},{"s":"s46","t":288,"v":60},{"s":"s46","t":292,"v":70},{"s":"s46","t":296,"v":63},{"s":"s46","t":299,"v":93},{"s":"s46","t":340,"v":92.5},{"s":"s46","t":370,"v":91.5},{"s":"s46","t":395,"v":89},{"s":"s46","t":420,"v":83},{"s":"s46","t":440,"v":76},{"s":"s46","t":460,"v":67},{"s":"s46","t":480,"v":57},{"s":"s46","t":500,"v":48},{"s":"s46","t":520,"v":41},{"s":"s46","t":540,"v":37},{"s":"s46","t":560,"v":34},{"s":"s46","t":580,"v":33},{"s":"s46","t":600,"v":32},
{"s":"s47","t":0,"v":0},{"s":"s47","t":160,"v":0},{"s":"s47","t":190,"v":2},{"s":"s47","t":210,"v":5},{"s":"s47","t":230,"v":10},{"s":"s47","t":245,"v":14},{"s":"s47","t":255,"v":22},{"s":"s47","t":262,"v":30},{"s":"s47","t":268,"v":26},{"s":"s47","t":274,"v":40},{"s":"s47","t":278,"v":35},{"s":"s47","t":283,"v":52},{"s":"s47","t":287,"v":45},{"s":"s47","t":290,"v":58},{"s":"s47","t":291,"v":94.5},{"s":"s47","t":330,"v":94},{"s":"s47","t":363,"v":93.5},{"s":"s47","t":387,"v":91},{"s":"s47","t":400,"v":89},{"s":"s47","t":414,"v":85},{"s":"s47","t":430,"v":79},{"s":"s47","t":441,"v":74},{"s":"s47","t":455,"v":67},{"s":"s47","t":468,"v":59},{"s":"s47","t":481,"v":52},{"s":"s47","t":495,"v":45.5},{"s":"s47","t":509,"v":41},{"s":"s47","t":523,"v":38},{"s":"s47","t":540,"v":35},{"s":"s47","t":560,"v":33},{"s":"s47","t":580,"v":32},{"s":"s47","t":600,"v":31.5},
{"s":"s48","t":0,"v":0},{"s":"s48","t":150,"v":0},{"s":"s48","t":170,"v":1},{"s":"s48","t":185,"v":3},{"s":"s48","t":195,"v":2},{"s":"s48","t":200,"v":5},{"s":"s48","t":205,"v":3},{"s":"s48","t":210,"v":8},{"s":"s48","t":214,"v":4},{"s":"s48","t":218,"v":10},{"s":"s48","t":222,"v":6},{"s":"s48","t":226,"v":14},{"s":"s48","t":230,"v":9},{"s":"s48","t":234,"v":20},{"s":"s48","t":238,"v":14},{"s":"s48","t":242,"v":27},{"s":"s48","t":246,"v":20},{"s":"s48","t":250,"v":35},{"s":"s48","t":253,"v":28},{"s":"s48","t":256,"v":70},{"s":"s48","t":258,"v":55},{"s":"s48","t":259,"v":47},{"s":"s48","t":260,"v":85.5},{"s":"s48","t":300,"v":85.5},{"s":"s48","t":320,"v":85},{"s":"s48","t":340,"v":83.5},{"s":"s48","t":352,"v":82.5},{"s":"s48","t":370,"v":79},{"s":"s48","t":385,"v":76},{"s":"s48","t":400,"v":72},{"s":"s48","t":415,"v":67},{"s":"s48","t":430,"v":61},{"s":"s48","t":445,"v":55},{"s":"s48","t":460,"v":49},{"s":"s48","t":475,"v":44},{"s":"s48","t":490,"v":40},{"s":"s48","t":505,"v":37},{"s":"s48","t":520,"v":35},{"s":"s48","t":540,"v":33},{"s":"s48","t":560,"v":32},{"s":"s48","t":580,"v":31.5},{"s":"s48","t":600,"v":31}
]},
"mark":{"type":"line","strokeWidth":1.1,"interpolate":"linear","clip":true},
"encoding":{
"x":{"field":"t","type":"quantitative","scale":{"domain":[0,600],"nice":false},
"axis":{"values":[0,100,200,300,400,500,600],"title":"year","titleFont":"Liberation Serif","titleFontSize":47,"titleFontWeight":"normal","titleColor":"#000","titleBaseline":"alphabetic","titleY":52,"titleX":379,"labelFont":"Liberation Sans","labelFontSize":15,"labelColor":"#000","tickSize":-6,"labelPadding":9,"domainColor":"#444","tickColor":"#444","grid":false,"labelFlush":false,"labelOverlap":false}},
"y":{"field":"v","type":"quantitative","scale":{"domain":[0,100],"nice":false},
"axis":{"values":[0,20,40,60,80,100],"title":"(%)","titleFont":"Liberation Sans","titleFontSize":12,"titleFontWeight":"normal","titleColor":"#333","titleAngle":-90,"titleX":-47,"titleY":136,"titleAlign":"center","titleBaseline":"middle","labelFont":"Liberation Sans","labelFontSize":15,"labelColor":"#000","tickSize":-6,"labelPadding":11,"domainColor":"#444","tickColor":"#444","grid":false,"labelFlush":false,"labelOverlap":false}},
"color":{"field":"s","type":"nominal","legend":null,
"scale":{"domain":["s01","s02","s03","s04","s05","s06","s07","s08","s09","s10","s11","s12","s13","s14","s15","s16","s17","s18","s19","s20","s21","s22","s23","s24","s25","s26","s27","s28","s29","s30","s31","s32","s33","s34","s35","s36","s37","s38","s39","s40","s41","s42","s43","s44","s45","s46","s47","s48"],
"range":["#1e1ed2","#2b2bff","#4646f0","#5a5aff","#3060ff","#2a80ff","#3a3ae8","#38e8ff","#48f0ff","#4a7cff","#30c8f0","#3f6af0","#3399ff","#55aaff","#4848c0","#22dcff","#4ce0ff","#30c0ff","#5ef0ff","#10d0ff","#40e8ff","#2a2ab8","#4b4bd9","#6464e8","#3c3cff","#3535c8","#3a6aff","#3a8cff","#4466ee","#ccff33","#b3ff4d","#99ff66","#a0ffa0","#88ffaa","#70ffa0","#80ff80","#66ffb3","#5cffcc","#ffff40","#ffee33","#ffdd00","#ffcc00","#ffe020","#ffbb22","#ffaa33","#ffb84d","#ffa020","#ff9a1f"]}}
}
}
